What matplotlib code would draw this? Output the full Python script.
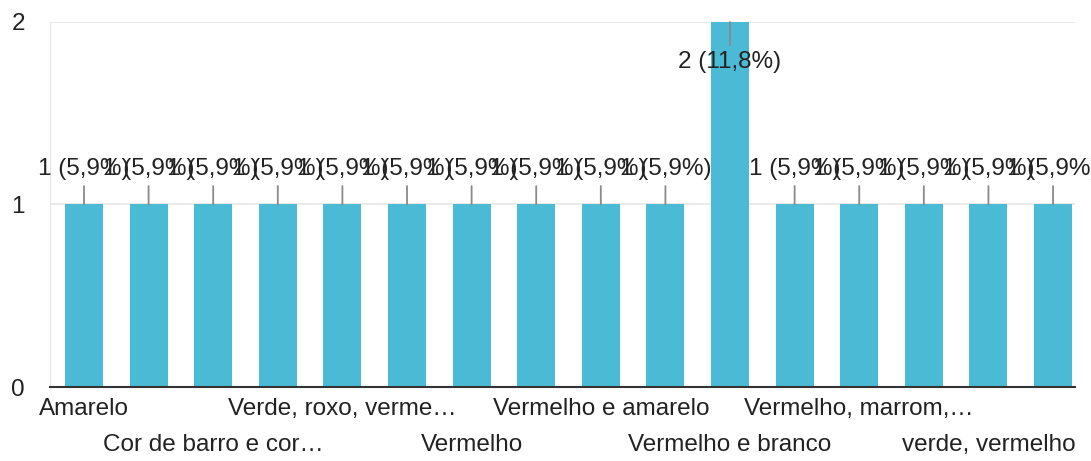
import matplotlib.pyplot as plt

plt.rcParams['font.family'] = ['Liberation Sans', 'DejaVu Sans']

# 16 respostas; so metade dos rotulos aparece no grafico original
labels_row1 = ["Amarelo", "Verde, roxo, verme…", "Vermelho e amarelo", "Vermelho, marrom,…"]
labels_row2 = ["Cor de barro e cor…", "Vermelho", "Vermelho e branco", "verde, vermelho"]
counts = [1, 1, 1, 1, 1, 1, 1, 1, 1, 1, 2, 1, 1, 1, 1, 1]
percents = [5.9, 5.9, 5.9, 5.9, 5.9, 5.9, 5.9, 5.9, 5.9, 5.9, 11.8, 5.9, 5.9, 5.9, 5.9, 5.9]

bar_color = '#4bbad5'
text_color = '#222222'

fig = plt.figure(figsize=(10.91, 4.61), dpi=100)
ax = fig.add_axes([50 / 1091, 1 - 387 / 461, 1025 / 1091, 365 / 461])

x = list(range(len(counts)))
ax.bar(x, counts, width=0.59, color=bar_color, zorder=2)

ymax = max(counts)
for xi, c, p in zip(x, counts, percents):
    txt = f"{c} ({p:.1f}%)".replace('.', ',')
    if c == ymax:
        off, va = -40, 'center'
    else:
        off, va = 35, 'center'
    ax.annotate(txt, xy=(xi, c), xytext=(0, off * 0.72), textcoords='offset points',
                ha='center', va=va, fontsize=17.5, color=text_color, zorder=4,
                arrowprops=dict(arrowstyle='-', color='#8a8a8a', lw=1.3,
                                shrinkA=2, shrinkB=0))

ax.set_xlim(-0.526, 15.34)
ax.set_ylim(0, 2)
ax.set_yticks([0, 1, 2])
ax.tick_params(axis='y', length=0, pad=18, labelsize=17.5, labelcolor=text_color)
ax.grid(axis='y', color='#e6e6e6', lw=1.2, zorder=0)

ax.set_xticks([0, 4, 8, 12])
ax.set_xticklabels(labels_row1)
ax.set_xticks([2, 6, 10, 14], minor=True)
ax.set_xticklabels(labels_row2, minor=True)
ax.tick_params(axis='x', which='major', length=0, pad=8, labelsize=17.5, labelcolor=text_color)
ax.tick_params(axis='x', which='minor', length=0, pad=34, labelsize=17.5, labelcolor=text_color)

for s in ['top', 'right']:
    ax.spines[s].set_visible(False)
ax.spines['left'].set_color('#e6e6e6')
ax.spines['bottom'].set_color('#333333')
ax.spines['bottom'].set_linewidth(1.5)
ax.spines['bottom'].set_zorder(3)

fig.savefig('out.png', dpi=100)
